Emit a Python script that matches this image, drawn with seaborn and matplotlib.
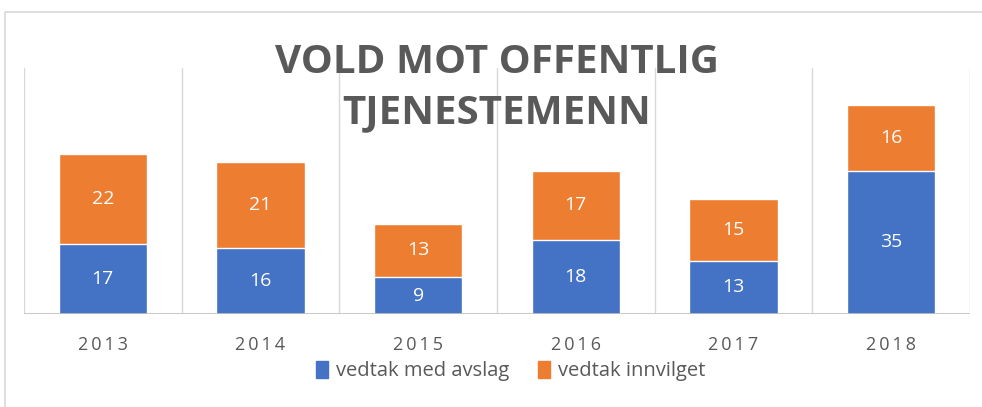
import matplotlib
matplotlib.use("Agg")
import matplotlib.pyplot as plt
import seaborn as sns
import pandas as pd
from matplotlib.patches import Rectangle

# data
years = ["2013", "2014", "2015", "2016", "2017", "2018"]
avslag = [17, 16, 9, 18, 13, 35]
innvilget = [22, 21, 13, 17, 15, 16]

blue = "#4472C4"
orange = "#ED7D31"
text_gray = "#595959"

sns.set_style("white")
plt.rcParams['font.family'] = ['Open Sans', 'DejaVu Sans']

df = pd.DataFrame({"year": years, "avslag": avslag, "innvilget": innvilget})
df["total"] = df["avslag"] + df["innvilget"]

fig = plt.figure(figsize=(9.82, 4.07), dpi=100)
ax = fig.add_axes([0.0244, 0.2285, 0.9633, 0.6044])

# chart frame
fig.patches.append(Rectangle((5 / 982, -0.1), 1.1, 1 - 12 / 407 + 0.1,
                             transform=fig.transFigure, fill=False,
                             edgecolor="#D9D9D9", linewidth=1.2))

# stacked bars: total in orange, lower part in blue on top of it
sns.barplot(data=df, x="year", y="total", color=orange, width=0.56,
            saturation=1, ax=ax, zorder=2)
sns.barplot(data=df, x="year", y="avslag", color=blue, width=0.56,
            saturation=1, ax=ax, zorder=3)

ax.set_xlim(-0.5, len(years) - 0.5)
ax.set_ylim(0, 60)
for i in range(len(years) + 1):
    ax.axvline(i - 0.5, color="#D9D9D9", linewidth=1, zorder=1)
ax.axhline(0, color="#BFBFBF", linewidth=1.2, zorder=4)

for i in range(len(years)):
    ax.text(i, avslag[i] / 2, str(avslag[i]), ha="center", va="center",
            color="white", fontsize=14, zorder=5)
    ax.text(i, avslag[i] + innvilget[i] / 2, str(innvilget[i]), ha="center",
            va="center", color="white", fontsize=14, zorder=5)

sns.despine(ax=ax, left=True, bottom=True, top=True, right=True)
ax.set_yticks([])
ax.set_xlabel("")
ax.set_ylabel("")
ax.set_xticks(range(len(years)))
ax.set_xticklabels(["\u2009".join(y) for y in years])
ax.tick_params(axis="x", length=0, pad=16, labelsize=13, labelcolor=text_gray)

fig.text(0.506, 0.784, "VOLD MOT OFFENTLIG\nTJENESTEMENN", ha="center",
         va="center", fontsize=29, fontweight="bold", color=text_gray,
         linespacing=1.38)

handles = [Rectangle((0, 0), 1, 1, color=blue), Rectangle((0, 0), 1, 1, color=orange)]
fig.legend(handles, ["vedtak med avslag", "vedtak innvilget"], loc="center",
           bbox_to_anchor=(0.52, 1 - 371 / 407), ncol=2, frameon=False,
           fontsize=14.5, labelcolor=text_gray, handlelength=0.6,
           handleheight=0.9, handletextpad=0.4, columnspacing=1.4)

fig.savefig("out.png", dpi=100)
